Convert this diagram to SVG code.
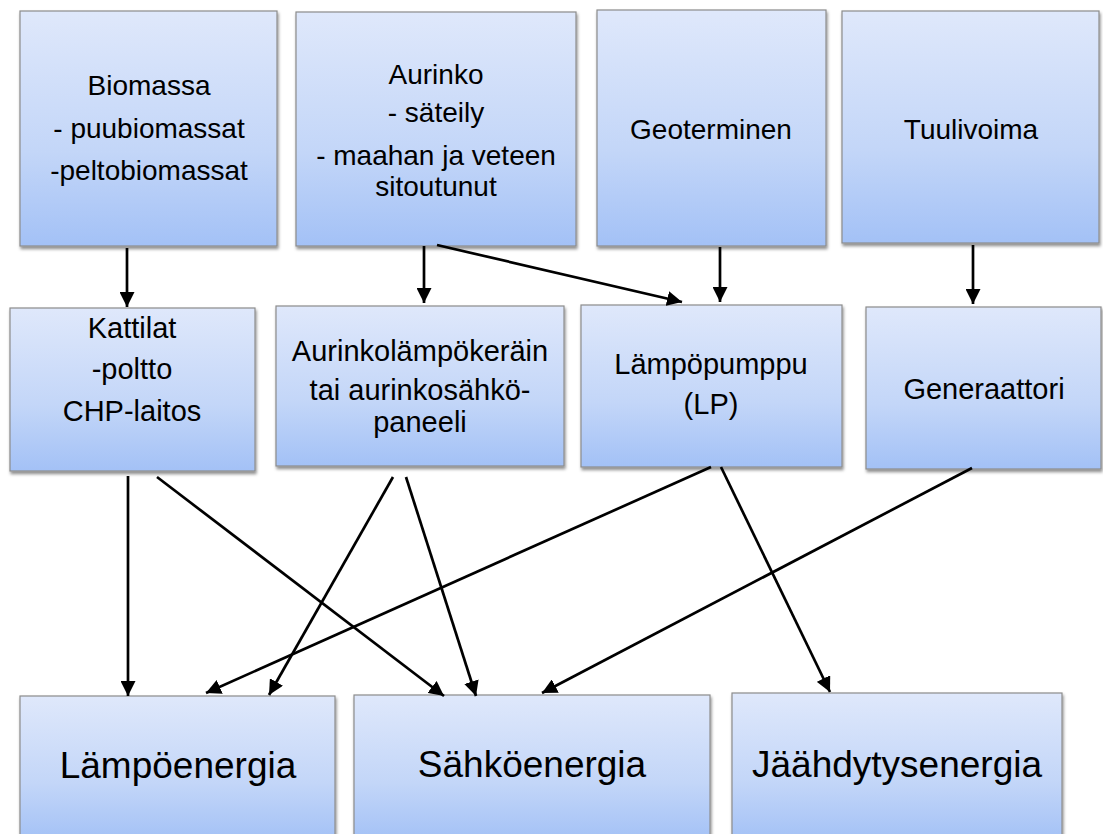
<svg xmlns="http://www.w3.org/2000/svg" width="1103" height="834" viewBox="0 0 1103 834">
<defs>
<linearGradient id="g" x1="0" y1="0" x2="0" y2="1">
<stop offset="0" stop-color="#dfe8fb"/>
<stop offset="0.6" stop-color="#c3d6f8"/>
<stop offset="1" stop-color="#a3c1f6"/>
</linearGradient>
<filter id="sh" x="-5%" y="-5%" width="112%" height="115%">
<feDropShadow dx="1" dy="2.5" stdDeviation="1.5" flood-color="#000" flood-opacity="0.45"/>
</filter>
<marker id="ah" markerUnits="userSpaceOnUse" markerWidth="16" markerHeight="15" refX="15" refY="7.5" orient="auto">
<path d="M0 0 L15 7.5 L0 15 Z" fill="#000"/>
</marker>
<style>
.box{fill:url(#g);stroke:#8c8c8c;stroke-width:1.2;filter:url(#sh)}
.t{font-family:"Liberation Sans",Arial,sans-serif;font-size:28px;fill:#000;text-anchor:middle}
.m{font-family:"Liberation Sans",Arial,sans-serif;font-size:29px;fill:#000;text-anchor:middle}
.tb{font-family:"Liberation Sans",Arial,sans-serif;font-size:37px;fill:#000;text-anchor:middle}
.c{stroke:#000;stroke-width:2.7;fill:none;marker-end:url(#ah)}
</style>
</defs>
<rect width="1103" height="834" fill="#fff"/>
<g id="n-biomassa"><rect class="box" x="20" y="11" width="257" height="235"/>
<text class="t" x="149" y="95">Biomassa</text><text class="t" x="149" y="138">- puubiomassat</text><text class="t" x="149" y="180">-peltobiomassat</text></g>
<g id="n-aurinko"><rect class="box" x="296" y="12" width="280" height="234"/>
<text class="t" x="436" y="84">Aurinko</text><text class="t" x="436" y="122">- säteily</text><text class="t" x="436" y="165">- maahan ja veteen</text><text class="t" x="436" y="196">sitoutunut</text></g>
<g id="n-geo"><rect class="box" x="597" y="10" width="229" height="236"/>
<text class="t" x="711" y="139">Geoterminen</text></g>
<g id="n-tuuli"><rect class="box" x="842" y="11" width="257" height="232"/>
<text class="t" x="971" y="139">Tuulivoima</text></g>
<g id="n-kattilat"><rect class="box" x="10" y="308" width="245" height="163"/>
<text class="m" x="132" y="338">Kattilat</text><text class="m" x="132" y="379">-poltto</text><text class="m" x="132" y="421">CHP-laitos</text></g>
<g id="n-aurinkolampo"><rect class="box" x="276" y="306" width="288" height="160"/>
<text class="m" x="420" y="361">Aurinkolämpökeräin</text><text class="m" x="420" y="400">tai aurinkosähkö-</text><text class="m" x="420" y="432">paneeli</text></g>
<g id="n-lp"><rect class="box" x="581" y="305" width="261" height="162"/>
<text class="m" x="711" y="374">Lämpöpumppu</text><text class="m" x="711" y="414">(LP)</text></g>
<g id="n-generaattori"><rect class="box" x="866" y="307" width="235" height="162"/>
<text class="m" x="984" y="399">Generaattori</text></g>
<g id="n-lampoenergia"><rect class="box" x="20" y="696" width="315" height="145"/>
<text class="tb" x="178" y="778">Lämpöenergia</text></g>
<g id="n-sahkoenergia"><rect class="box" x="354" y="695" width="356" height="146"/>
<text class="tb" x="532" y="777">Sähköenergia</text></g>
<g id="n-jaahdytysenergia"><rect class="box" x="732" y="693" width="330" height="148"/>
<text class="tb" x="897" y="777">Jäähdytysenergia</text></g>
<g id="connectors">
<path class="c" d="M127 248 V307"/>
<path class="c" d="M424 246 V303"/>
<path class="c" d="M437 245 L682 302"/>
<path class="c" d="M720 247 V302"/>
<path class="c" d="M973 245 V304"/>
<path class="c" d="M128 476 V696"/>
<path class="c" d="M157 477 L444 696"/>
<path class="c" d="M393 477 L269 695"/>
<path class="c" d="M406 477 L476 696"/>
<path class="c" d="M711 467 L206 693"/>
<path class="c" d="M721 467 L830 692"/>
<path class="c" d="M972 468 L542 693"/>
</g>
</svg>
